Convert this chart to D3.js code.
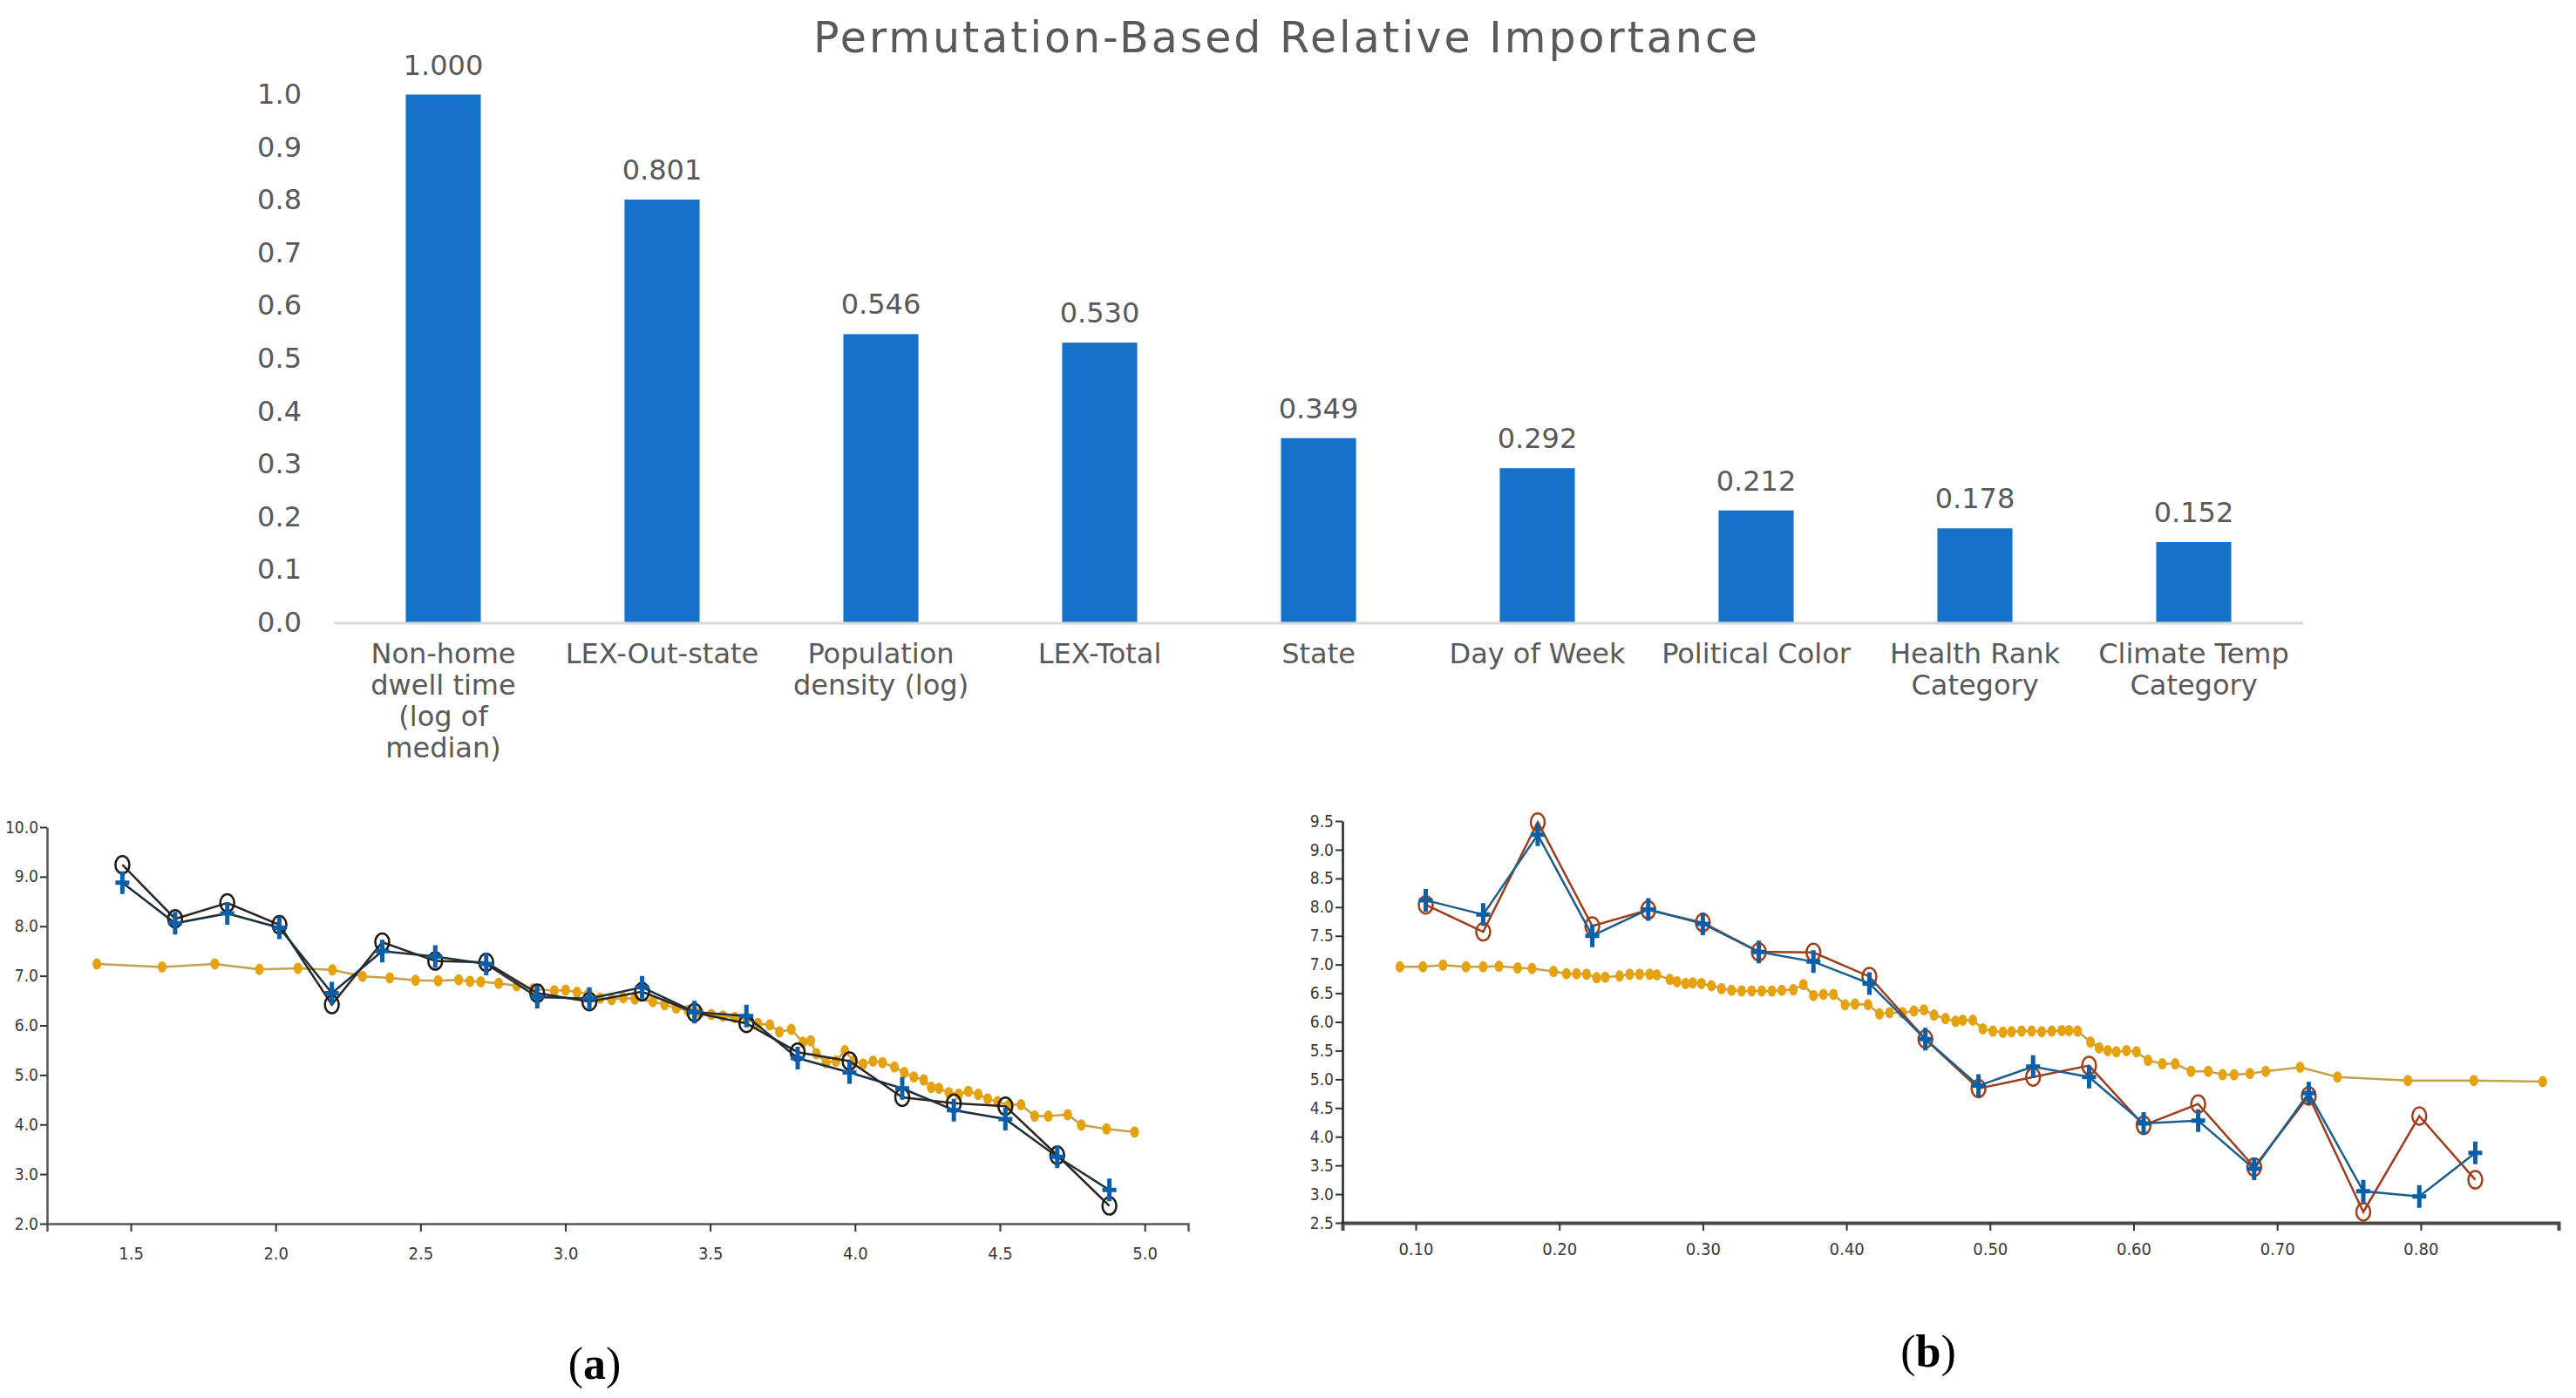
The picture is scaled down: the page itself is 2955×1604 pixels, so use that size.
<!DOCTYPE html>
<html lang="en">
<head>
    <meta charset="UTF-8">
    <title>Permutation-Based Relative Importance</title>
    <script src="https://d3js.org/d3.v7.min.js"></script>
    <style>
        body {
            margin: 0;
            padding: 0;
            background: #ffffff;
        }
        .top-text {
            font-family: "DejaVu Sans", sans-serif;
            fill: #595959;
        }
        .small-axis text {
            font-family: "Liberation Sans Narrow", "DejaVu Sans Condensed", sans-serif;
            fill: #3a3a3a;
        }
    </style>
</head>
<body>
    <script>
        // ---- data: bar chart ----
        const categoryLines = [
            ["Non-home", "dwell time", "(log of", "median)"],
            ["LEX-Out-state"],
            ["Population", "density (log)"],
            ["LEX-Total"],
            ["State"],
            ["Day of Week"],
            ["Political Color"],
            ["Health Rank", "Category"],
            ["Climate Temp", "Category"]
        ];
        const importance = [1.000, 0.801, 0.546, 0.530, 0.349, 0.292, 0.212, 0.178, 0.152];
        const barTicks = [0, 0.1, 0.2, 0.3, 0.4, 0.5, 0.6, 0.7, 0.8, 0.9, 1.0];

        // ---- data: panel (a) ----
        const aX = [1.471, 1.653, 1.833, 2.013, 2.194, 2.368, 2.551, 2.727, 2.903, 3.083,
                    3.265, 3.446, 3.625, 3.802, 3.981, 4.163, 4.341, 4.519, 4.698, 4.878];
        const aBlue = [8.88, 8.06, 8.26, 7.97, 6.65, 7.50, 7.39, 7.24, 6.57, 6.54,
                       6.77, 6.27, 6.19, 5.34, 5.05, 4.73, 4.29, 4.11, 3.35, 2.68];
        const aBrown = [9.24, 8.15, 8.47, 8.03, 6.42, 7.68, 7.30, 7.27, 6.65, 6.48,
                        6.68, 6.26, 6.04, 5.46, 5.28, 4.55, 4.43, 4.37, 3.38, 2.36];
        const aOrange = [
            [1.383, 7.24], [1.608, 7.18], [1.790, 7.24], [1.944, 7.13], [2.077, 7.15],
            [2.196, 7.12], [2.300, 6.99], [2.394, 6.96], [2.483, 6.91], [2.561, 6.90],
            [2.632, 6.92], [2.671, 6.89], [2.708, 6.88], [2.770, 6.85], [2.832, 6.80],
            [2.890, 6.74], [2.962, 6.70], [3.001, 6.71], [3.040, 6.67], [3.080, 6.64],
            [3.120, 6.55], [3.160, 6.52], [3.200, 6.56], [3.240, 6.53], [3.302, 6.48],
            [3.343, 6.42], [3.383, 6.35], [3.423, 6.30], [3.464, 6.25], [3.504, 6.22],
            [3.544, 6.19], [3.585, 6.16], [3.625, 6.13], [3.665, 6.04], [3.706, 6.01],
            [3.739, 5.87], [3.780, 5.92], [3.820, 5.66], [3.847, 5.69], [3.867, 5.43],
            [3.900, 5.25], [3.934, 5.28], [3.965, 5.49], [3.995, 5.28], [4.028, 5.22],
            [4.062, 5.28], [4.095, 5.25], [4.136, 5.16], [4.170, 5.05], [4.203, 4.96],
            [4.237, 4.90], [4.263, 4.75], [4.290, 4.73], [4.324, 4.64], [4.358, 4.61],
            [4.391, 4.67], [4.425, 4.61], [4.458, 4.52], [4.492, 4.46], [4.532, 4.40],
            [4.573, 4.40], [4.620, 4.17], [4.667, 4.17], [4.734, 4.20], [4.781, 3.99],
            [4.868, 3.91], [4.965, 3.85]
        ];
        const aXTicks = [1.5, 2.0, 2.5, 3.0, 3.5, 4.0, 4.5, 5.0];
        const aYTicks = [2, 3, 4, 5, 6, 7, 8, 9, 10];

        // ---- data: panel (b) ----
        const bX = [0.107, 0.147, 0.185, 0.223, 0.262, 0.300, 0.339, 0.377, 0.416, 0.455,
                    0.492, 0.530, 0.569, 0.607, 0.645, 0.684, 0.722, 0.760, 0.799, 0.838];
        const bBlue = [8.12, 7.87, 9.26, 7.50, 7.96, 7.71, 7.22, 7.05, 6.67, 5.70,
                       4.89, 5.22, 5.04, 4.23, 4.28, 3.44, 4.76, 3.05, 2.96, 3.72];
        const bBrown = [8.04, 7.57, 9.48, 7.67, 7.95, 7.73, 7.22, 7.21, 6.79, 5.70,
                        4.84, 5.04, 5.24, 4.20, 4.57, 3.47, 4.71, 2.69, 4.36, 3.25];
        const bOrange = [
            [0.089, 6.96], [0.105, 6.96], [0.119, 6.99], [0.135, 6.96], [0.147, 6.96],
            [0.158, 6.97], [0.171, 6.94], [0.181, 6.93], [0.196, 6.88], [0.205, 6.84],
            [0.212, 6.84], [0.219, 6.83], [0.226, 6.77], [0.232, 6.78], [0.242, 6.80],
            [0.249, 6.83], [0.256, 6.83], [0.263, 6.83], [0.268, 6.82], [0.277, 6.74],
            [0.282, 6.70], [0.288, 6.67], [0.293, 6.68], [0.299, 6.67], [0.306, 6.63],
            [0.313, 6.58], [0.320, 6.55], [0.327, 6.54], [0.334, 6.54], [0.341, 6.54],
            [0.348, 6.54], [0.355, 6.55], [0.363, 6.56], [0.370, 6.65], [0.377, 6.46],
            [0.384, 6.48], [0.391, 6.48], [0.399, 6.30], [0.406, 6.31], [0.415, 6.30],
            [0.423, 6.14], [0.430, 6.16], [0.439, 6.16], [0.447, 6.19], [0.454, 6.21],
            [0.461, 6.12], [0.469, 6.06], [0.476, 6.01], [0.481, 6.03], [0.488, 6.03],
            [0.495, 5.88], [0.502, 5.84], [0.509, 5.82], [0.515, 5.83], [0.522, 5.84],
            [0.529, 5.84], [0.536, 5.83], [0.543, 5.84], [0.550, 5.85], [0.555, 5.85],
            [0.561, 5.84], [0.570, 5.65], [0.576, 5.55], [0.582, 5.50], [0.588, 5.48],
            [0.595, 5.50], [0.602, 5.48], [0.610, 5.33], [0.620, 5.27], [0.629, 5.27],
            [0.640, 5.14], [0.652, 5.14], [0.662, 5.08], [0.670, 5.08], [0.681, 5.10],
            [0.692, 5.14], [0.716, 5.21], [0.742, 5.04], [0.791, 4.98], [0.837, 4.98],
            [0.885, 4.96]
        ];
        const bXTicks = [0.1, 0.2, 0.3, 0.4, 0.5, 0.6, 0.7, 0.8];
        const bYTicks = [2.5, 3.0, 3.5, 4.0, 4.5, 5.0, 5.5, 6.0, 6.5, 7.0, 7.5, 8.0, 8.5, 9.0, 9.5];

        const width = 2955;
        const height = 1604;

        const svg = d3.select("body")
            .append("svg")
            .attr("width", width)
            .attr("height", height);

        // ================= bar chart =================
        const names = categoryLines.map(d => d.join(" "));

        const x = d3.scaleBand()
            .domain(names)
            .range([383, 2642])
            .paddingInner(0.657)
            .paddingOuter(0.3285);

        const y = d3.scaleLinear()
            .domain([0, 1])
            .range([714, 108.5]);

        svg.append("text")
            .attr("class", "top-text")
            .attr("x", 1476)
            .attr("y", 60)
            .attr("text-anchor", "middle")
            .attr("font-size", 49)
            .attr("letter-spacing", 3)
            .attr("fill", "#666666")
            .text("Permutation-Based Relative Importance");

        // y axis labels only
        const yAxis = svg.append("g")
            .attr("transform", "translate(383,0)")
            .call(d3.axisLeft(y).tickValues(barTicks).tickFormat(d3.format(".1f")).tickSize(0).tickPadding(37));
        yAxis.select(".domain").remove();
        yAxis.selectAll("text")
            .attr("class", "top-text")
            .attr("font-size", 32)
            .style("font-family", "DejaVu Sans, sans-serif")
            .style("fill", "#595959");

        svg.selectAll(".bar")
            .data(importance)
            .enter()
            .append("rect")
            .attr("class", "bar")
            .attr("x", (d, i) => x(names[i]))
            .attr("width", x.bandwidth())
            .attr("y", d => y(d))
            .attr("height", d => y(0) - y(d))
            .attr("fill", "#1572c8");

        // base line
        svg.append("line")
            .attr("x1", 383).attr("x2", 2642)
            .attr("y1", y(0) + 1).attr("y2", y(0) + 1)
            .attr("stroke", "#d9d9d9")
            .attr("stroke-width", 3);

        svg.selectAll(".val")
            .data(importance)
            .enter()
            .append("text")
            .attr("class", "top-text val")
            .attr("x", (d, i) => x(names[i]) + x.bandwidth() / 2)
            .attr("y", d => y(d) - 23)
            .attr("text-anchor", "middle")
            .attr("font-size", 32)
            .text(d => d3.format(".3f")(d));

        const cat = svg.selectAll(".cat")
            .data(categoryLines)
            .enter()
            .append("text")
            .attr("class", "top-text cat")
            .attr("text-anchor", "middle")
            .attr("font-size", 32)
            .attr("transform", (d, i) => `translate(${x(names[i]) + x.bandwidth() / 2},761)`);
        cat.selectAll("tspan")
            .data(d => d)
            .enter()
            .append("tspan")
            .attr("x", 0)
            .attr("y", (d, i) => i * 36)
            .text(d => d);

        // ================= line panels =================
        function drawPanel(cfg) {
            const g = svg.append("g");
            const px = d3.scaleLinear().domain(cfg.xDomain).range(cfg.xRange);
            const py = d3.scaleLinear().domain(cfg.yDomain).range(cfg.yRange);

            // axes
            const gx = g.append("g")
                .attr("class", "small-axis")
                .attr("transform", `translate(0,${cfg.yRange[0]})`)
                .call(d3.axisBottom(px).tickValues(cfg.xTicks).tickFormat(d3.format(cfg.xFmt))
                    .tickSize(9).tickSizeOuter(9).tickPadding(cfg.xPad));
            gx.select(".domain").attr("stroke", cfg.xAxisColor).attr("stroke-width", cfg.xAxisWidth);
            gx.selectAll(".tick line").attr("stroke", "#333").attr("stroke-width", 2);
            gx.selectAll("text").attr("font-size", 20);

            const gy = g.append("g")
                .attr("class", "small-axis")
                .attr("transform", `translate(${cfg.xRange[0]},0)`)
                .call(d3.axisLeft(py).tickValues(cfg.yTicks).tickFormat(d3.format(".1f"))
                    .tickSize(8).tickSizeOuter(0).tickPadding(2));
            gy.select(".domain").attr("stroke", cfg.yAxisColor).attr("stroke-width", 2.5);
            gy.selectAll(".tick line").attr("stroke", "#333").attr("stroke-width", 2);
            gy.selectAll("text").attr("font-size", 19);

            const line = d3.line().x(d => px(d[0])).y(d => py(d[1]));

            // orange series
            g.append("path")
                .datum(cfg.orange)
                .attr("d", line)
                .attr("fill", "none")
                .attr("stroke", "#c4a24a")
                .attr("stroke-width", 2.5);
            g.selectAll(".dot")
                .data(cfg.orange)
                .enter()
                .append("ellipse")
                .attr("cx", d => px(d[0]))
                .attr("cy", d => py(d[1]))
                .attr("rx", 5)
                .attr("ry", 6.5)
                .attr("fill", "#e6a10e");

            // circle series
            const brown = cfg.xs.map((v, i) => [v, cfg.brown[i]]);
            g.append("path")
                .datum(brown)
                .attr("d", line)
                .attr("fill", "none")
                .attr("stroke", cfg.brownLine)
                .attr("stroke-width", 2.5);
            g.selectAll(".ring")
                .data(brown)
                .enter()
                .append("ellipse")
                .attr("cx", d => px(d[0]))
                .attr("cy", d => py(d[1]))
                .attr("rx", 8)
                .attr("ry", 10)
                .attr("fill", "none")
                .attr("stroke", cfg.ringColor)
                .attr("stroke-width", 2.5);

            // plus series
            const blue = cfg.xs.map((v, i) => [v, cfg.blue[i]]);
            g.append("path")
                .datum(blue)
                .attr("d", line)
                .attr("fill", "none")
                .attr("stroke", cfg.blueLine)
                .attr("stroke-width", 2.5);
            g.selectAll(".plus")
                .data(blue)
                .enter()
                .append("path")
                .attr("d", "M-8,0H8M0,-13V13")
                .attr("transform", d => `translate(${px(d[0])},${py(d[1])})`)
                .attr("stroke", "#0b5ea8")
                .attr("stroke-width", 5);

            // panel label
            const lab = svg.append("text")
                .attr("x", cfg.labelX)
                .attr("y", cfg.labelY)
                .attr("text-anchor", "middle")
                .attr("font-family", "Liberation Serif, serif")
                .attr("font-size", 52)
                .attr("fill", "#000");
            lab.append("tspan").text("(");
            lab.append("tspan").attr("font-weight", "bold").text(cfg.label);
            lab.append("tspan").text(")");
        }

        drawPanel({
            xDomain: [1.211, 5.15], xRange: [54, 1363],
            yDomain: [2, 10], yRange: [1404, 949],
            xTicks: aXTicks, yTicks: aYTicks, xFmt: ".1f", xPad: 18,
            xAxisColor: "#5a5a5a", xAxisWidth: 2.5, yAxisColor: "#555",
            xs: aX, blue: aBlue, brown: aBrown, orange: aOrange,
            brownLine: "#2e2520", blueLine: "#1d3040", ringColor: "#1e1a18",
            label: "a", labelX: 682, labelY: 1582
        });

        drawPanel({
            xDomain: [0.049, 0.896], xRange: [1540, 2935],
            yDomain: [2.5, 9.5], yRange: [1403, 942],
            xTicks: bXTicks, yTicks: bYTicks, xFmt: ".2f", xPad: 14,
            xAxisColor: "#4a4a4a", xAxisWidth: 4, yAxisColor: "#222",
            xs: bX, blue: bBlue, brown: bBrown, orange: bOrange,
            brownLine: "#9e3d1c", blueLine: "#1c5f8e", ringColor: "#a3401c",
            label: "b", labelX: 2212, labelY: 1568
        });
    </script>
</body>
</html>
